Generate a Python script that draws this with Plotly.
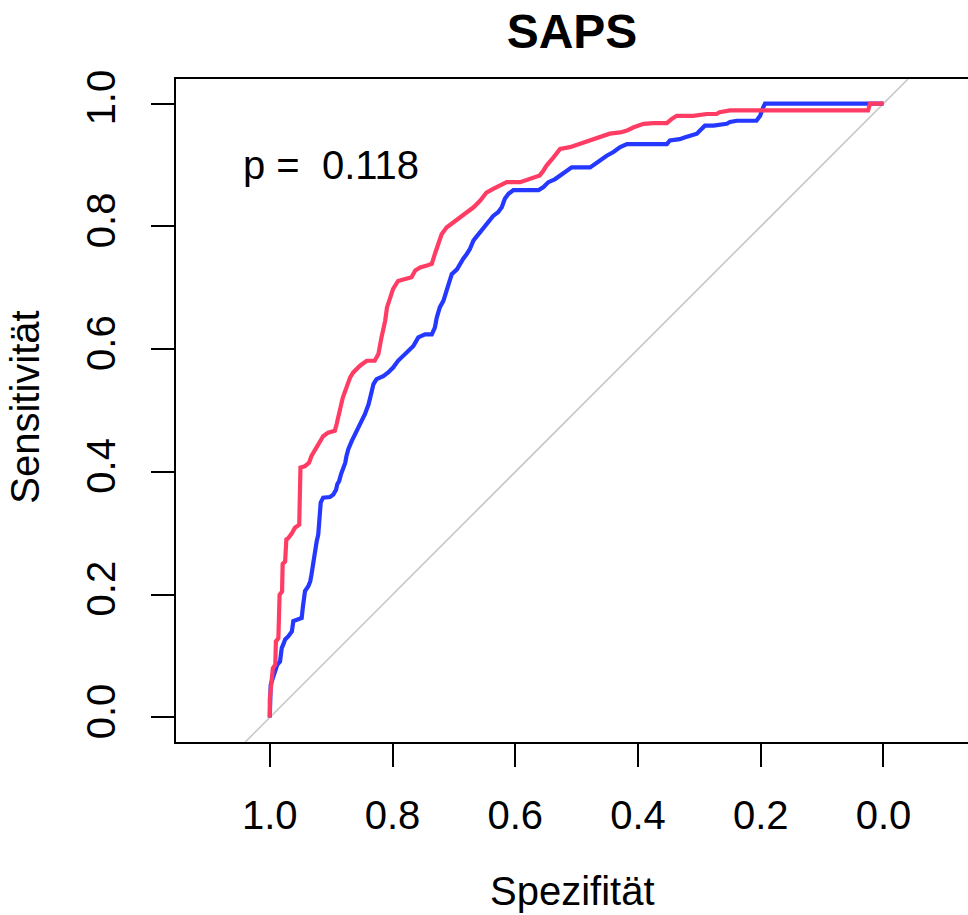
import plotly.graph_objects as go

# ---------------- data ----------------
title_text = "SAPS"
x_title = "Spezifität"
y_title = "Sensitivität"
p_label = "p =\u00a0 0.118"
p_pos = [0.9, 0.9]

tick_vals = [0.0, 0.2, 0.4, 0.6, 0.8, 1.0]
tick_text = ["0.0", "0.2", "0.4", "0.6", "0.8", "1.0"]

red_spec = [1.0, 1.0, 0.995, 0.991, 0.990, 0.986, 0.984, 0.980, 0.979, 0.975,
            0.973, 0.970, 0.964, 0.959, 0.952, 0.951, 0.950, 0.943, 0.936, 0.932,
            0.924, 0.913, 0.905, 0.894, 0.891, 0.886, 0.881, 0.869, 0.864, 0.853,
            0.842, 0.829, 0.823, 0.818, 0.812, 0.809, 0.804, 0.799, 0.791, 0.777,
            0.769, 0.763, 0.755, 0.744, 0.736, 0.731, 0.725, 0.720, 0.712, 0.701,
            0.690, 0.679, 0.668, 0.657, 0.647, 0.636, 0.625, 0.614, 0.592, 0.579,
            0.571, 0.560, 0.554, 0.549, 0.538, 0.527, 0.511, 0.495, 0.478, 0.462,
            0.446, 0.429, 0.418, 0.408, 0.391, 0.375, 0.353, 0.345, 0.337, 0.310,
            0.288, 0.272, 0.267, 0.250, 0.200, 0.025, 0.022, 0.0]
red_sens = [0.0, 0.030, 0.080, 0.086, 0.124, 0.129, 0.200, 0.205, 0.250, 0.254,
            0.290, 0.292, 0.300, 0.309, 0.314, 0.344, 0.407, 0.409, 0.415, 0.426,
            0.439, 0.458, 0.464, 0.467, 0.478, 0.499, 0.521, 0.554, 0.562, 0.573,
            0.581, 0.581, 0.592, 0.619, 0.646, 0.668, 0.684, 0.698, 0.711, 0.714,
            0.717, 0.728, 0.733, 0.736, 0.739, 0.755, 0.771, 0.787, 0.798, 0.806,
            0.815, 0.823, 0.831, 0.842, 0.855, 0.861, 0.866, 0.872, 0.872, 0.877,
            0.880, 0.883, 0.891, 0.899, 0.912, 0.926, 0.929, 0.934, 0.940, 0.945,
            0.951, 0.953, 0.956, 0.961, 0.967, 0.968, 0.968, 0.975, 0.980, 0.980,
            0.983, 0.983, 0.986, 0.989, 0.989, 0.989, 1.0, 1.0]

blue_spec = [1.0, 1.0, 0.9985, 0.995, 0.9915, 0.9877, 0.9833, 0.9805, 0.978, 0.975,
             0.970, 0.964, 0.9616, 0.956, 0.948, 0.9463, 0.9453, 0.9426, 0.937, 0.934,
             0.932, 0.930, 0.927, 0.926, 0.9235, 0.921, 0.919, 0.918, 0.917, 0.913,
             0.902, 0.8965, 0.892, 0.890, 0.887, 0.884, 0.880, 0.877, 0.875, 0.872,
             0.8665, 0.861, 0.856, 0.850, 0.845, 0.839, 0.8355, 0.831, 0.826, 0.815,
             0.807, 0.799, 0.791, 0.782, 0.774, 0.766, 0.758, 0.747, 0.736, 0.731,
             0.728, 0.723, 0.717, 0.712, 0.706, 0.7035, 0.695, 0.690, 0.685, 0.679,
             0.674, 0.668, 0.660, 0.652, 0.644, 0.636, 0.628, 0.622, 0.617, 0.611,
             0.603, 0.562, 0.554, 0.546, 0.535, 0.524, 0.516, 0.508, 0.478, 0.470,
             0.462, 0.451, 0.440, 0.429, 0.418, 0.353, 0.348, 0.332, 0.323, 0.315,
             0.304, 0.299, 0.291, 0.277, 0.2555, 0.250, 0.239, 0.207, 0.201, 0.196,
             0.193, 0.0]
blue_sens = [0.0, 0.034, 0.053, 0.064, 0.075, 0.086, 0.091, 0.113, 0.119, 0.127,
             0.132, 0.140, 0.157, 0.159, 0.162, 0.178, 0.189, 0.206, 0.214, 0.222,
             0.233, 0.249, 0.260, 0.276, 0.287, 0.298, 0.320, 0.341, 0.350, 0.358,
             0.359, 0.363, 0.371, 0.380, 0.385, 0.396, 0.407, 0.415, 0.426, 0.437,
             0.450, 0.461, 0.472, 0.483, 0.494, 0.510, 0.526, 0.543, 0.551, 0.556,
             0.562, 0.570, 0.581, 0.589, 0.597, 0.605, 0.619, 0.624, 0.624, 0.635,
             0.651, 0.668, 0.679, 0.695, 0.711, 0.722, 0.730, 0.739, 0.747, 0.755,
             0.763, 0.777, 0.787, 0.798, 0.809, 0.817, 0.823, 0.831, 0.845, 0.853,
             0.859, 0.859, 0.864, 0.872, 0.877, 0.885, 0.891, 0.896, 0.896, 0.902,
             0.907, 0.915, 0.921, 0.929, 0.934, 0.934, 0.940, 0.942, 0.945, 0.948,
             0.951, 0.956, 0.964, 0.964, 0.967, 0.970, 0.972, 0.972, 0.980, 0.994,
             1.0, 1.0]

x_range = [1.1528, -0.1377]
y_range = [-0.04, 1.04]

# ---------------- figure ----------------
FONT = "Arial, 'Liberation Sans', sans-serif"
RED = "#FF3D64"
BLUE = "#2438FF"

fig = go.Figure()

# chance diagonal (sens = 1 - spec) across the full plot height
diag_y = list(y_range)
diag_x = [1 - v for v in diag_y]
fig.add_trace(go.Scatter(x=diag_x, y=diag_y, mode="lines",
                         line=dict(color="#C4C4C4", width=1.5),
                         hoverinfo="skip", showlegend=False))

fig.add_trace(go.Scatter(x=blue_spec, y=blue_sens, mode="lines",
                         line=dict(color=BLUE, width=4.2), showlegend=False))
fig.add_trace(go.Scatter(x=red_spec, y=red_sens, mode="lines",
                         line=dict(color=RED, width=4.2), showlegend=False))

fig.add_annotation(x=p_pos[0], y=p_pos[1], xref="x", yref="y", text=p_label,
                   showarrow=False, xanchor="center", yanchor="middle",
                   font=dict(family=FONT, size=40, color="black"))

# axis titles
fig.add_annotation(x=0.5, y=-0.225, xref="paper", yref="paper", text=x_title,
                   showarrow=False, xanchor="center", yanchor="middle",
                   font=dict(family=FONT, size=40, color="black"))
fig.add_annotation(x=-0.19, y=0.505, xref="paper", yref="paper", text=y_title,
                   showarrow=False, xanchor="center", yanchor="middle", textangle=-90,
                   font=dict(family=FONT, size=40, color="black"))

fig.update_layout(
    width=968, height=915,
    margin=dict(l=176, r=0, t=79, b=173),
    paper_bgcolor="white", plot_bgcolor="white",
    font=dict(family=FONT, size=40, color="black"),
    title=dict(text="<b>" + title_text + "</b>", x=0.5, xref="paper", xanchor="center",
               y=1 - 31 / 915, yref="container", yanchor="middle",
               font=dict(family=FONT, size=48, color="black")),
    showlegend=False,
)
fig.update_xaxes(range=x_range, tickvals=tick_vals, ticktext=tick_text,
                 showgrid=False, zeroline=False,
                 showline=True, linecolor="black", linewidth=2, mirror=True,
                 ticks="outside", ticklen=23, tickwidth=2, tickcolor="black",
                 tickfont=dict(family=FONT, size=40, color="black"),
                 ticklabelstandoff=14)
fig.update_yaxes(range=y_range, tickvals=tick_vals, ticktext=tick_text,
                 showgrid=False, zeroline=False,
                 showline=True, linecolor="black", linewidth=2, mirror=False,
                 ticks="outside", ticklen=23, tickwidth=2, tickcolor="black",
                 tickangle=-90,
                 tickfont=dict(family=FONT, size=40, color="black"),
                 ticklabelstandoff=20)

fig.write_html("out.html", config={"displayModeBar": False},
               post_script="document.body.style.margin='0';document.body.style.overflow='hidden';")
